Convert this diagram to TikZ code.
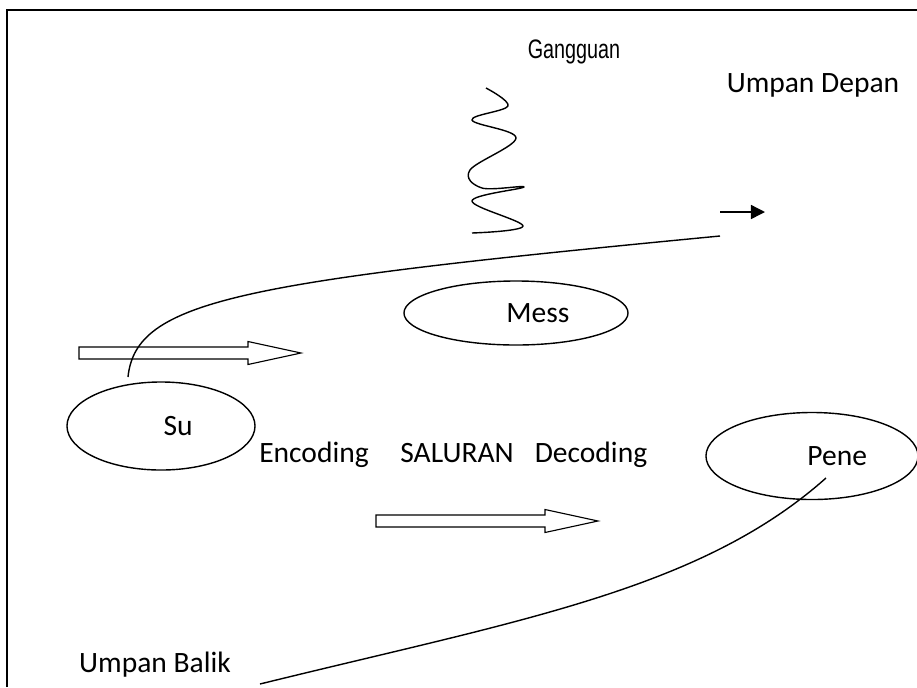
\documentclass[tikz,border=0pt]{standalone}
\usepackage{fontspec}
\setmainfont{Carlito}
\newfontfamily\narrowfont[FakeStretch=0.74]{Liberation Sans}
\usetikzlibrary{arrows.meta,shapes.geometric}

\begin{document}
\begin{tikzpicture}[x=0.025cm, y=-0.025cm]
% ---------------------------------------------------------
% Dimensions (one unit = one pixel, y runs downwards)
% ---------------------------------------------------------
\def\PicW{917}
\def\PicH{687}
\def\FrameL{7}      % left edge of the frame
\def\FrameT{10}     % top edge of the frame
\def\ShaftL{169}    % shaft length of the hollow arrows
\def\HeadL{53}      % head length of the hollow arrows
\def\ShaftH{6}      % half shaft height
\def\HeadH{11.5}    % half head height

% ---------------------------------------------------------
% Styles
% ---------------------------------------------------------
\tikzset{
  bubble/.style={ellipse, draw=black, line width=1pt, inner sep=0pt},
  label text/.style={font=\fontsize{21}{25}\selectfont},
  noise text/.style={font=\narrowfont\fontsize{19}{23}\selectfont},
  wire/.style={line width=1pt},
  hollow/.style={draw=black, line width=0.8pt, fill=white, line join=miter}
}

\useasboundingbox (0,0) rectangle (\PicW,\PicH);

% =========================================================
% 1) FRAME (open at right and bottom)
% =========================================================
\draw[line width=1.1pt] (\FrameL,\PicH) -- (\FrameL,\FrameT) -- (\PicW,\FrameT);

% =========================================================
% 2) ELLIPSES
% =========================================================
\node[bubble, minimum width=4.7cm, minimum height=2.2cm,
      label={[label text, xshift=0.43cm]center:Su}] (su) at (161,426) {};
\node[bubble, minimum width=5.6cm, minimum height=1.6cm,
      label={[label text, xshift=0.55cm]center:Mess}] (mess) at (516,313) {};
\node[bubble, minimum width=5.3cm, minimum height=2.175cm,
      label={[label text, xshift=0.63cm]center:Pene}] (pene) at (812,456) {};

% =========================================================
% 3) TEXT LABELS
% =========================================================
\node[noise text] (noise) at (574,52) {Gangguan};
\node[label text] (fwdtext) at (813,85) {Umpan Depan};
\node[label text] (backtext) at (155,665) {Umpan Balik};
\node[label text, anchor=base] (enc) at (314,462) {Encoding};
\node[label text, anchor=base] (chan) at (457,462) {SALURAN};
\node[label text, anchor=base] (dec) at (591,462) {Decoding};

% =========================================================
% 4) NOISE SQUIGGLE
% =========================================================
\draw[wire, line join=round] plot[smooth, tension=0.6] coordinates {
  (486,88) (508,106) (472,120) (516,138) (470,170) (482,188)
  (524,187) (472,201) (523,226) (472,233)};

% =========================================================
% 5) HOLLOW BLOCK ARROWS
% =========================================================
\foreach \x/\y in {79/353, 376/521} {
  \draw[hollow] (\x,\y-\ShaftH) -- ++(\ShaftL,0) -- (\x+\ShaftL,\y-\HeadH)
    -- (\x+\ShaftL+\HeadL,\y) -- (\x+\ShaftL,\y+\HeadH) -- (\x+\ShaftL,\y+\ShaftH)
    -- (\x,\y+\ShaftH) -- cycle;
}

% =========================================================
% 6) FEED-FORWARD AND FEEDBACK CURVES
% =========================================================
\coordinate (fwdstart) at (128,377);
\coordinate (fwdend) at (720,236);
\coordinate (tipstart) at (720,212);
\coordinate (tipend) at (765,212);
\coordinate (backstart) at (260,684);
\coordinate (backend) at (826,478);

\draw[wire] (fwdstart) .. controls (136,300) and (240,282) .. (fwdend);
\draw[wire, -{Triangle[length=10pt, width=10pt]}] (tipstart) -- (tipend);
\draw[wire] (backstart) .. controls (520,620) and (700,590) .. (backend);

\end{tikzpicture}
\end{document}
